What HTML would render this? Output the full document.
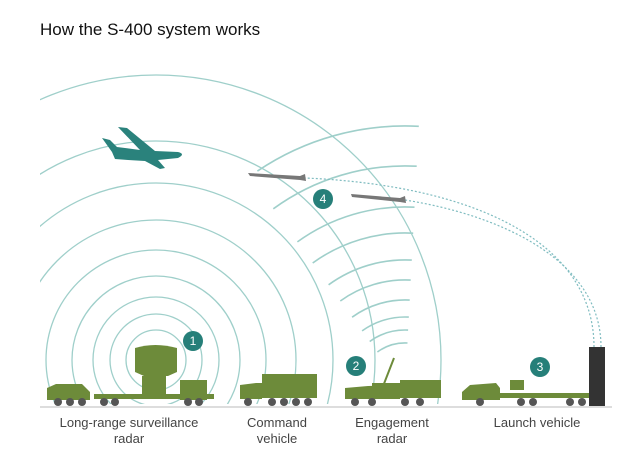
<!DOCTYPE html>
<html><head><style>
html,body{margin:0;padding:0;background:#fff;width:640px;height:456px;overflow:hidden;}
svg{display:block;}
text{font-family:"Liberation Sans",Arial,sans-serif;}
</style></head><body>
<svg width="640" height="456" viewBox="0 0 640 456" xmlns="http://www.w3.org/2000/svg">
<defs>
<clipPath id="cl"><rect x="40" y="0" width="600" height="404"/></clipPath>
</defs>
<text x="40" y="35" font-size="17" fill="#111">How the S-400 system works</text>
<g clip-path="url(#cl)" fill="none" stroke="#9fcfca" stroke-width="1.3">
<circle cx="156" cy="360" r="285"/>
<circle cx="156" cy="360" r="219"/>
<circle cx="156" cy="360" r="177"/>
<circle cx="156" cy="360" r="140"/>
<circle cx="156" cy="360" r="110"/>
<circle cx="156" cy="360" r="84"/>
<circle cx="156" cy="360" r="63"/>
<circle cx="156" cy="360" r="46"/>
<circle cx="156" cy="360" r="30"/>
</g>
<g fill="none" stroke="#9fcfca" stroke-width="1.6">
<path d="M257.4 171.1 A264 264 0 0 1 418.8 126.3"/>
<path d="M273.3 208.8 A224 224 0 0 1 416.7 166.2"/>
<path d="M297.4 241.9 A183 183 0 0 1 414.5 207.2"/>
<path d="M312.7 263.0 A157 157 0 0 1 413.2 233.2"/>
<path d="M328.6 284.8 A130 130 0 0 1 411.8 260.1"/>
<path d="M340.3 301.0 A110 110 0 0 1 410.7 280.1"/>
<path d="M352.1 317.2 A90 90 0 0 1 409.7 300.1"/>
<path d="M362.1 330.9 A73 73 0 0 1 408.8 317.1"/>
<path d="M369.7 341.5 A60 60 0 0 1 408.1 330.1"/>
<path d="M377.4 352.0 A47 47 0 0 1 407.5 343.0"/>
</g>
<!-- trajectories -->
<g fill="none" stroke="#7fbcc0" stroke-width="1.2" stroke-dasharray="2,2">
<path d="M594 347 C594 240 470 185 305 178"/>
<path d="M601 347 C601 260 500 215 405 200"/>
</g>
<!-- missiles -->
<g fill="#777">
<path d="M248 173 L300 176 L305 174 L306 181 L300 180 L250 176 Z"/>
<path d="M351 194 L400 198 L405 196 L406 203 L400 202 L352 197 Z"/>
</g>
<!-- plane -->
<path fill="#2a827c" d="M102 138 L110 140 L117 147 L140 150 L118 127 L127 128 L155 151 L178 152 Q186 154 178 158 L158 160 L165 168 L160 169 L145 161 L128 160 L115 159 L112 152 Z"/>
<!-- badges -->
<g fill="#267f79"><circle cx="193" cy="341" r="10"/><circle cx="356" cy="366" r="10"/><circle cx="540" cy="367" r="10"/><circle cx="323" cy="199" r="10"/></g>
<g fill="#fff" font-size="12" text-anchor="middle"><text x="193" y="345">1</text><text x="356" y="370">2</text><text x="540" y="371">3</text><text x="323" y="203">4</text></g>
<!-- ground -->
<line x1="40" y1="407" x2="612" y2="407" stroke="#bbb" stroke-width="1"/>
<g fill="#6d8b3a">
<path d="M47 388 L56 384 L82 384 L90 392 L90 400 L47 400 Z"/>
<rect x="94" y="394" width="120" height="5"/>
<path d="M135 348 Q155 342 177 348 L177 372 L168 376 L144 376 L135 372 Z"/>
<rect x="142" y="376" width="24" height="22"/>
<rect x="180" y="380" width="27" height="20"/>
<rect x="262" y="374" width="55" height="24"/>
<path d="M240 385 L256 383 L262 383 L262 399 L240 399 Z"/>
<rect x="400" y="380" width="41" height="18"/>
<path d="M345 388 L368 386 L400 385 L400 399 L345 399 Z"/>
<rect x="372" y="383" width="30" height="10"/>
<path d="M462 392 L470 385 L496 383 L500 388 L500 400 L462 400 Z"/>
<rect x="510" y="380" width="14" height="10"/>
<rect x="495" y="393" width="95" height="5"/>
</g>
<line x1="380" y1="394" x2="394" y2="358" stroke="#6d8b3a" stroke-width="2"/>
<rect x="589" y="347" width="16" height="59" fill="#333"/>
<g fill="#555">
<circle cx="58" cy="402" r="4"/><circle cx="70" cy="402" r="4"/><circle cx="82" cy="402" r="4"/><circle cx="104" cy="402" r="4"/><circle cx="115" cy="402" r="4"/><circle cx="188" cy="402" r="4"/><circle cx="199" cy="402" r="4"/>
<circle cx="248" cy="402" r="4"/><circle cx="272" cy="402" r="4"/><circle cx="284" cy="402" r="4"/><circle cx="296" cy="402" r="4"/><circle cx="308" cy="402" r="4"/>
<circle cx="355" cy="402" r="4"/><circle cx="372" cy="402" r="4"/><circle cx="405" cy="402" r="4"/><circle cx="420" cy="402" r="4"/>
<circle cx="480" cy="402" r="4"/><circle cx="521" cy="402" r="4"/><circle cx="533" cy="402" r="4"/><circle cx="570" cy="402" r="4"/><circle cx="582" cy="402" r="4"/>
</g>
<g font-size="13" fill="#444" text-anchor="middle">
<text x="129" y="427">Long-range surveillance</text><text x="129" y="443">radar</text>
<text x="277" y="427">Command</text><text x="277" y="443">vehicle</text>
<text x="392" y="427">Engagement</text><text x="392" y="443">radar</text>
<text x="537" y="427">Launch vehicle</text>
</g>
</svg>
</body></html>
